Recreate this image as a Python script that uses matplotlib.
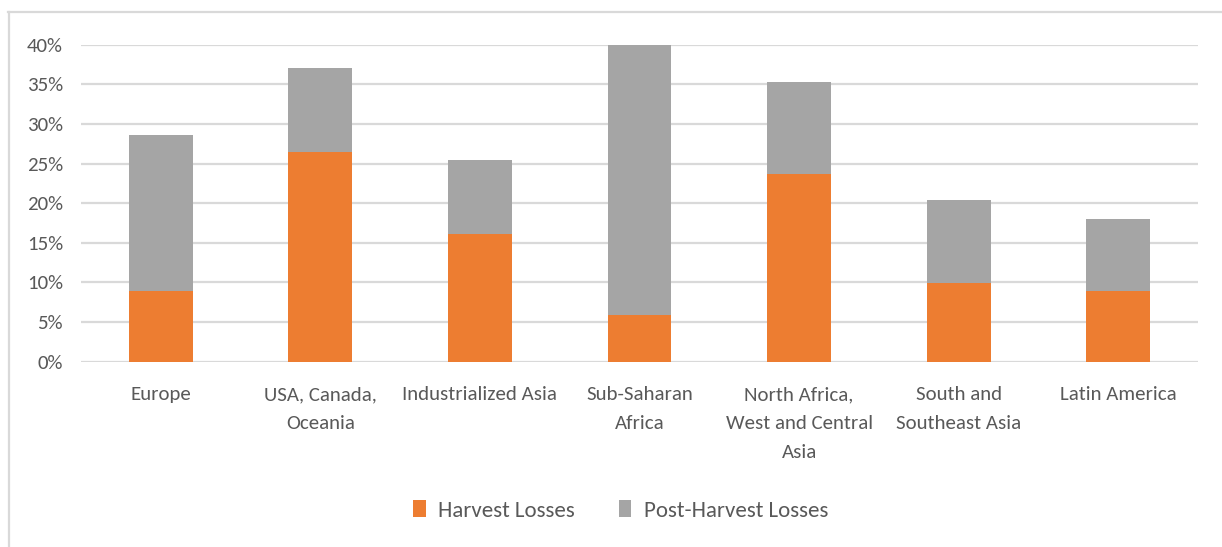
import matplotlib.pyplot as plt
import matplotlib.font_manager as fm
from matplotlib.lines import Line2D
from matplotlib.ticker import FuncFormatter

regions = ["Europe", "USA, Canada,\nOceania", "Industrialized Asia", "Sub-Saharan\nAfrica",
           "North Africa,\nWest and Central\nAsia", "South and\nSoutheast Asia", "Latin America"]
harvest = [8.9, 26.5, 16.1, 5.9, 23.7, 9.9, 8.9]
post_harvest = [19.7, 10.5, 9.3, 34.3, 11.6, 10.5, 9.1]
yticks = [0, 5, 10, 15, 20, 25, 30, 35, 40]

names = {f.name for f in fm.fontManager.ttflist}
font = next((n for n in ["Carlito", "Liberation Sans Narrow", "Lato"] if n in names), "DejaVu Sans")
plt.rcParams["font.family"] = [font, "DejaVu Sans"]

orange = "#ED7D31"
grey = "#A5A5A5"
txt = "#595959"
grid = "#D9D9D9"

fig = plt.figure(figsize=(12.22, 5.47), dpi=100)
ax = fig.add_axes([81 / 1222, 185.3 / 547, 1117 / 1222, 317 / 547])

x = range(len(regions))
ax.bar(x, harvest, width=0.4, color=orange, label="Harvest Losses", zorder=3)
ax.bar(x, post_harvest, width=0.4, bottom=harvest, color=grey,
       label="Post-Harvest Losses", zorder=3)

ax.set_xlim(-0.5, len(regions) - 0.5)
ax.set_ylim(0, 40)
ax.set_yticks(yticks)
ax.yaxis.set_major_formatter(FuncFormatter(lambda v, p: f"{v:.0f}%"))
ax.set_xticks(list(x))
ax.set_xticklabels(regions, linespacing=1.85)
ax.tick_params(axis="y", length=0, pad=13, labelsize=15, labelcolor=txt)
ax.tick_params(axis="x", length=0, pad=17.5, labelsize=15, labelcolor=txt)
ax.grid(axis="y", color=grid, linewidth=1.6, zorder=0)
for s in ax.spines.values():
    s.set_visible(False)

leg = fig.legend(loc="center", bbox_to_anchor=(0.508, 0.067), ncol=2, frameon=False,
                 fontsize=16.5, handlelength=0.55, handleheight=0.75,
                 handletextpad=0.55, columnspacing=1.9)
for t in leg.get_texts():
    t.set_color(txt)

# chart frame, cropped at right and bottom
fig.add_artist(Line2D([8 / 1222, 1], [1 - 11.5 / 547] * 2, color=grid, lw=1.6,
                      transform=fig.transFigure))
fig.add_artist(Line2D([8.5 / 1222] * 2, [0, 1 - 11.5 / 547], color=grid, lw=1.6,
                      transform=fig.transFigure))

fig.savefig("out.png", dpi=100)
